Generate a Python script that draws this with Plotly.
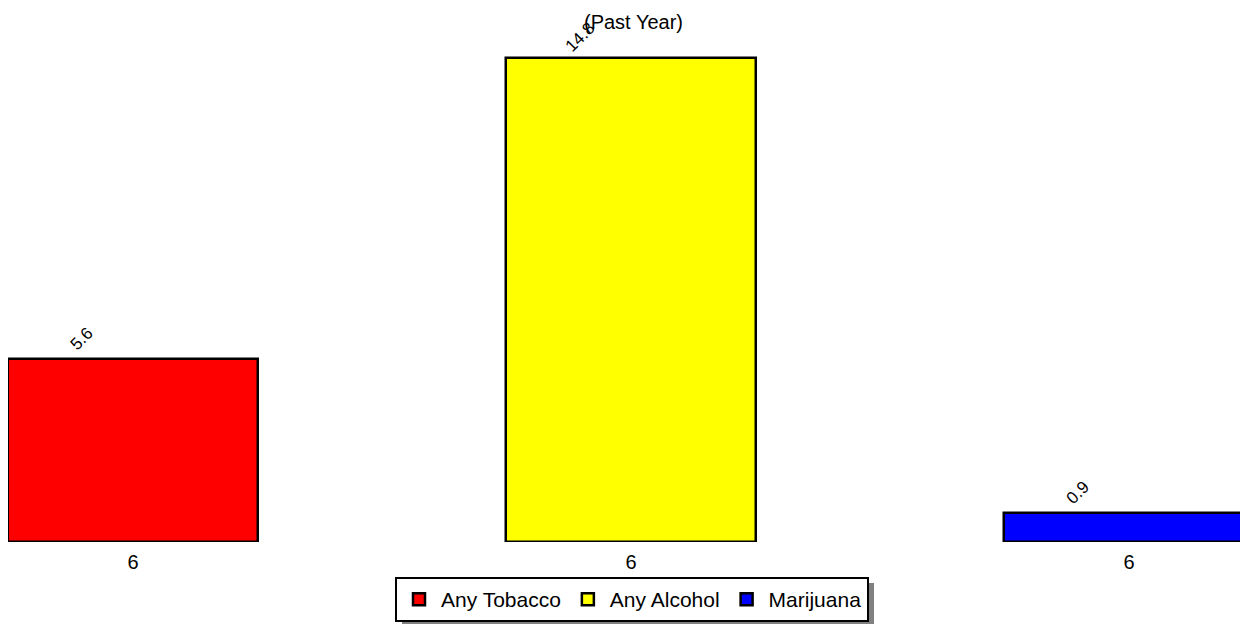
import plotly.graph_objects as go

# data
substances = ["Any Tobacco", "Any Alcohol", "Marijuana"]
grades = ["6", "6", "6"]
percent = [5.6, 14.8, 0.9]
bar_colors = ["#FF0000", "#FFFF00", "#0000FF"]

W, H = 1248, 624
# the page body adds an 8px margin, so figure px = screen px - 8
PLOT_TOP, PLOT_BOTTOM = 27, 534


def py(y_px):
    # figure pixel row -> paper y
    return (PLOT_BOTTOM - y_px) / (PLOT_BOTTOM - PLOT_TOP)


fig = go.Figure()
for i, (name, val, col) in enumerate(zip(substances, percent, bar_colors)):
    fig.add_trace(go.Bar(
        x=[i], y=[val], name=name, width=0.502,
        marker=dict(color=col, line=dict(color="black", width=2.5)),
        hoverinfo="name+y",
    ))
    fig.add_annotation(x=i, y=val, text=f"{val}", showarrow=False,
                       textangle=-45, xshift=-51, yshift=20,
                       font=dict(size=17, color="black"))

# subtitle (main title sits above the visible area)
fig.add_annotation(x=625 / W, y=py(14), xref="paper", yref="paper",
                   yanchor="middle", xanchor="center",
                   text="(Past Year)", showarrow=False,
                   font=dict(size=20, color="black"))

# legend drop shadow
fig.add_shape(type="rect", xref="paper", yref="paper",
              x0=394 / W, x1=866 / W, y0=py(575), y1=py(618),
              fillcolor="#808080", line=dict(width=0), layer="below")

fig.update_layout(
    width=W, height=H,
    margin=dict(l=0, r=0, t=PLOT_TOP, b=H - PLOT_BOTTOM),
    plot_bgcolor="white", paper_bgcolor="white",
    font=dict(family="Liberation Sans, Arial, sans-serif", color="black", size=20),
    bargap=0,
    showlegend=True,
    legend=dict(orientation="h", x=624 / W, xanchor="center",
                y=py(569), yanchor="top",
                bgcolor="white", bordercolor="black", borderwidth=2,
                font=dict(size=21), itemwidth=34, traceorder="normal"),
    xaxis=dict(range=[-0.251, 2.255], tickvals=list(range(len(grades))),
               ticktext=grades, showgrid=False, zeroline=False,
               showline=False, ticks="", ticklabelstandoff=6,
               tickfont=dict(size=20)),
    yaxis=dict(range=[0, 15.5], visible=False),
)

fig.write_html("out.html")
